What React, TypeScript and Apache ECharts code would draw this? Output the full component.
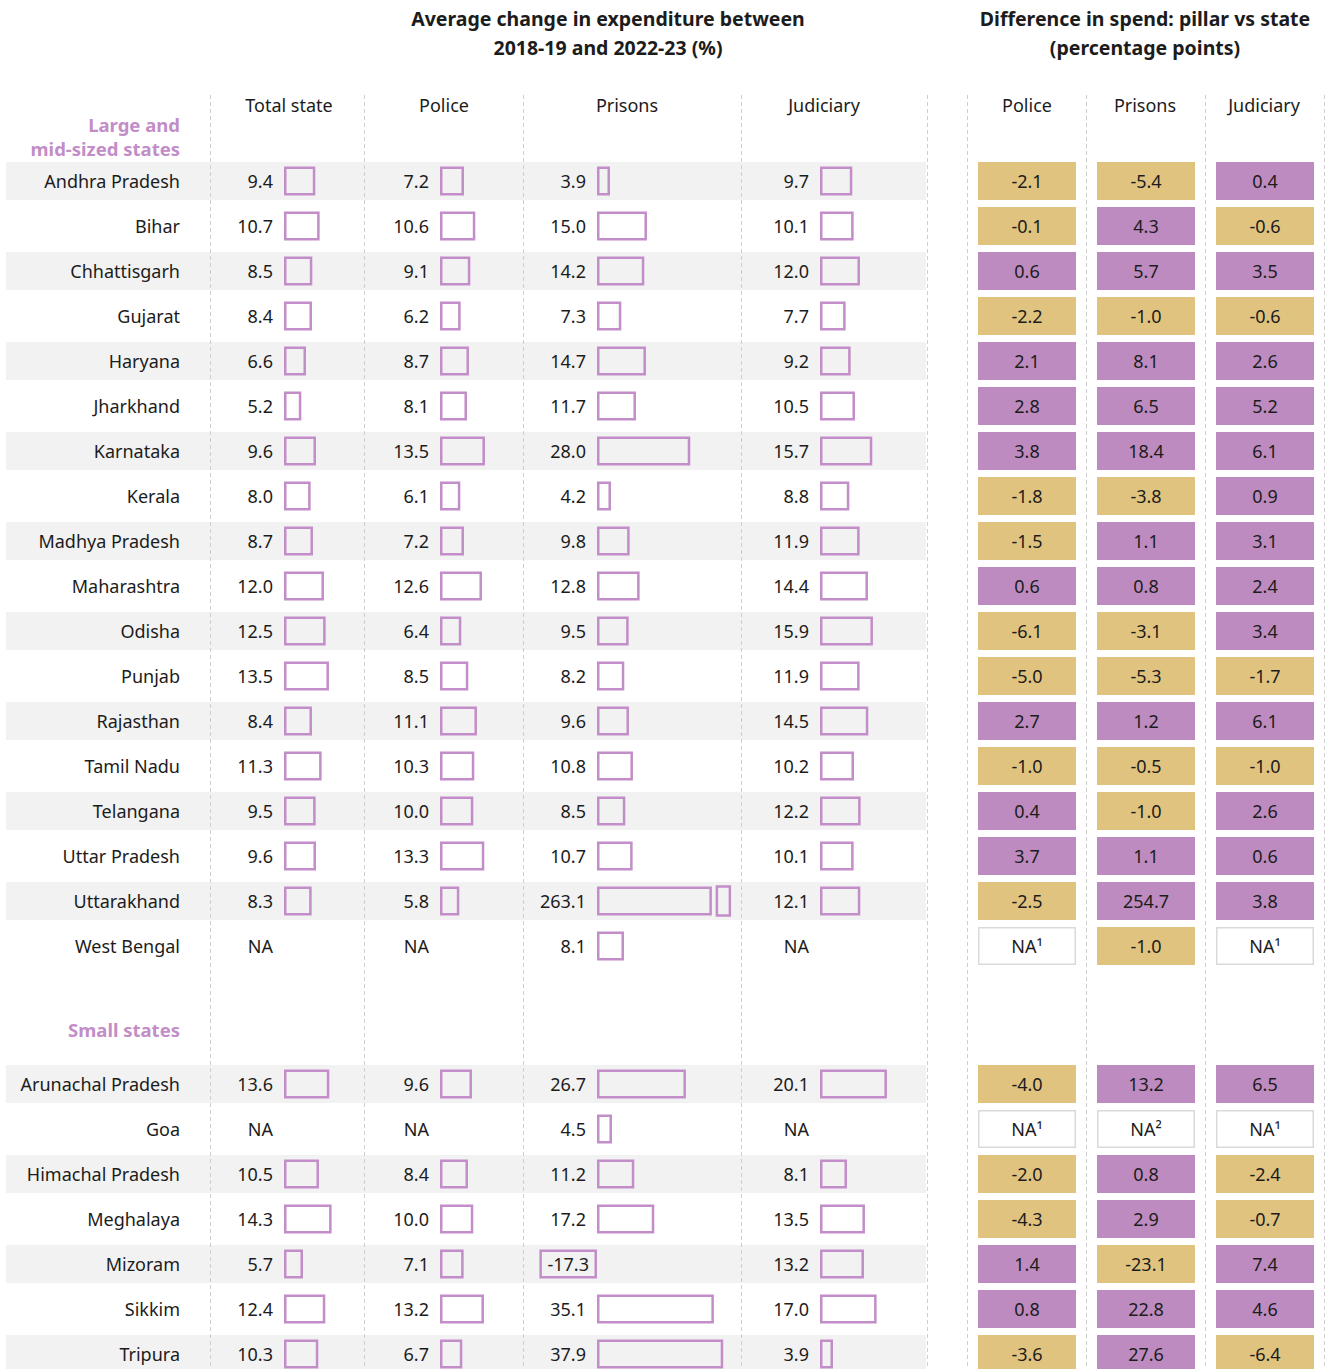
import React, { useEffect, useRef } from "react";
import * as echarts from "echarts";

// ---------- DATA ----------
const LARGE_STATES = [
  "Andhra Pradesh", "Bihar", "Chhattisgarh", "Gujarat", "Haryana", "Jharkhand",
  "Karnataka", "Kerala", "Madhya Pradesh", "Maharashtra", "Odisha", "Punjab",
  "Rajasthan", "Tamil Nadu", "Telangana", "Uttar Pradesh", "Uttarakhand", "West Bengal",
];
const SMALL_STATES = ["Arunachal Pradesh", "Goa", "Himachal Pradesh", "Meghalaya", "Mizoram", "Sikkim", "Tripura"];

type V = number | string;

// values: 18 large states, then 7 small states
const TOTAL_STATE: V[] = [9.4, 10.7, 8.5, 8.4, 6.6, 5.2, 9.6, 8.0, 8.7, 12.0, 12.5, 13.5, 8.4, 11.3, 9.5, 9.6, 8.3, "NA",
  13.6, "NA", 10.5, 14.3, 5.7, 12.4, 10.3];
const POLICE: V[] = [7.2, 10.6, 9.1, 6.2, 8.7, 8.1, 13.5, 6.1, 7.2, 12.6, 6.4, 8.5, 11.1, 10.3, 10.0, 13.3, 5.8, "NA",
  9.6, "NA", 8.4, 10.0, 7.1, 13.2, 6.7];
const PRISONS: V[] = [3.9, 15.0, 14.2, 7.3, 14.7, 11.7, 28.0, 4.2, 9.8, 12.8, 9.5, 8.2, 9.6, 10.8, 8.5, 10.7, 263.1, 8.1,
  26.7, 4.5, 11.2, 17.2, -17.3, 35.1, 37.9];
const JUDICIARY: V[] = [9.7, 10.1, 12.0, 7.7, 9.2, 10.5, 15.7, 8.8, 11.9, 14.4, 15.9, 11.9, 14.5, 10.2, 12.2, 10.1, 12.1, "NA",
  20.1, "NA", 8.1, 13.5, 13.2, 17.0, 3.9];

const DIFF_POLICE: V[] = [-2.1, -0.1, 0.6, -2.2, 2.1, 2.8, 3.8, -1.8, -1.5, 0.6, -6.1, -5.0, 2.7, -1.0, 0.4, 3.7, -2.5, "NA¹",
  -4.0, "NA¹", -2.0, -4.3, 1.4, 0.8, -3.6];
const DIFF_PRISONS: V[] = [-5.4, 4.3, 5.7, -1.0, 8.1, 6.5, 18.4, -3.8, 1.1, 0.8, -3.1, -5.3, 1.2, -0.5, -1.0, 1.1, 254.7, -1.0,
  13.2, "NA²", 0.8, 2.9, -23.1, 22.8, 27.6];
const DIFF_JUDICIARY: V[] = [0.4, -0.6, 3.5, -0.6, 2.6, 5.2, 6.1, 0.9, 3.1, 2.4, 3.4, -1.7, 6.1, -1.0, 2.6, 0.6, 3.8, "NA¹",
  6.5, "NA¹", -2.4, -0.7, 7.4, 4.6, -6.4];

const LEFT_HEADERS = ["Total state", "Police", "Prisons", "Judiciary"];
const RIGHT_HEADERS = ["Police", "Prisons", "Judiciary"];
const GROUP_LABELS = [["Large and", "mid-sized states"], ["Small states"]];

// ---------- STYLE / LAYOUT ----------
const FONT = "'Noto Sans', 'DejaVu Sans', sans-serif";
const TEXT = "#1c1c1c";
const LILAC = "#c28dc8";
const PURPLE = "#bd8bbf";
const GOLD = "#e0c37f";
const STRIPE = "#f2f2f2";
const FS = 18;
const K = 3.33; // px per percent
const ROW_H = 45;
const PRISON_MAX = 40; // prisons axis maximum
const PRISON_CAP = 34.5; // drawn length of bars beyond the axis (axis break)
const BREAK_FROM = 36.0;
const BREAK_TO = 39.9;
const CANVAS_H = 1385;

const GROUPS = [
  { names: LARGE_STATES, offset: 0, top: 158.5 },
  { names: SMALL_STATES, offset: LARGE_STATES.length, top: 1061.5 },
];

export default function App() {
  const ref = useRef<HTMLDivElement>(null);

  useEffect(() => {
    document.body.style.margin = "0";
    document.body.style.overflow = "hidden";
    const chart = echarts.init(ref.current!, undefined, { renderer: "svg" });

    const grids: any[] = [];
    const xAxes: any[] = [];
    const yAxes: any[] = [];
    const series: any[] = [];

    const addGrid = (g: any, left: number, min: number, max: number, showNames = false, width?: number) => {
      const idx = grids.length;
      grids.push({ left, width: width ?? (max - min) * K, top: g.top, height: g.names.length * ROW_H });
      xAxes.push({ gridIndex: idx, type: "value", min, max, show: false });
      yAxes.push({
        gridIndex: idx, type: "category", data: g.names, inverse: true,
        show: showNames,
        axisLine: { show: false }, axisTick: { show: false }, splitLine: { show: false },
        axisLabel: { show: showNames, margin: 104, fontFamily: FONT, fontSize: FS, color: TEXT },
      });
      return idx;
    };

    const barSeries = (vals: V[], gi: number, withBreak = false) => ({
      type: "bar", xAxisIndex: gi, yAxisIndex: gi, barWidth: 29, z: 3,
      itemStyle: { color: "transparent", borderColor: LILAC, borderWidth: 2.5 },
      label: { show: true, position: "left", distance: 11, fontFamily: FONT, fontSize: FS, color: TEXT },
      data: vals.map((v) => {
        if (typeof v === "string")
          return { value: 0, itemStyle: { borderWidth: 0 }, label: { formatter: v } };
        const shown = withBreak && v > PRISON_MAX ? PRISON_CAP : v;
        return {
          value: shown,
          label: { formatter: v.toFixed(1), position: v < 0 ? "inside" : "left" },
        };
      }),
    });

    const cellSeries = (vals: V[], gi: number) => ({
      type: "bar", xAxisIndex: gi, yAxisIndex: gi, barWidth: 38, z: 3,
      label: { show: true, position: "inside", fontFamily: FONT, fontSize: FS, color: TEXT },
      data: vals.map((v) => {
        if (typeof v === "string")
          return {
            value: 1,
            itemStyle: { color: "#ffffff", borderColor: "#dadada", borderWidth: 1.5 },
            label: { formatter: v },
          };
        return {
          value: 1,
          itemStyle: { color: v < 0 ? GOLD : PURPLE },
          label: { formatter: v.toFixed(1) },
        };
      }),
    });

    GROUPS.forEach((g) => {
      const sl = (arr: V[]) => arr.slice(g.offset, g.offset + g.names.length);

      // stripes
      const gs = addGrid(g, 6, 0, 1, false, 920);
      series.push({
        type: "bar", xAxisIndex: gs, yAxisIndex: gs, barWidth: 38, z: 0, silent: true,
        data: g.names.map((_, i) => (i % 2 === 0 ? 1 : "-")),
        itemStyle: { color: STRIPE },
      });

      const g1 = addGrid(g, 284, 0, 22, true);
      series.push(barSeries(sl(TOTAL_STATE), g1));
      const g2 = addGrid(g, 440, 0, 22);
      series.push(barSeries(sl(POLICE), g2));
      const g3 = addGrid(g, 597 - 20 * K, -20, PRISON_MAX);
      const pv = sl(PRISONS);
      series.push(barSeries(pv, g3, true));
      series.push({
        type: "custom", xAxisIndex: g3, yAxisIndex: g3, z: 3,
        data: pv.map((v, i) => [typeof v === "number" && v > PRISON_MAX ? 1 : 0, i]).filter((d) => d[0] === 1),
        encode: { x: 0, y: 1 },
        renderItem: (_p: any, api: any) => {
          const row = api.value(1);
          const a = api.coord([BREAK_FROM, row]);
          const b = api.coord([BREAK_TO, row]);
          return {
            type: "rect",
            shape: { x: a[0], y: a[1] - 14.5, width: b[0] - a[0], height: 29 },
            style: { fill: "none", stroke: LILAC, lineWidth: 2.5 },
          };
        },
      });
      const g4 = addGrid(g, 820, 0, 22);
      series.push(barSeries(sl(JUDICIARY), g4));

      const c1 = addGrid(g, 978, 0, 1, false, 98);
      series.push(cellSeries(sl(DIFF_POLICE), c1));
      const c2 = addGrid(g, 1097, 0, 1, false, 98);
      series.push(cellSeries(sl(DIFF_PRISONS), c2));
      const c3 = addGrid(g, 1216, 0, 1, false, 98);
      series.push(cellSeries(sl(DIFF_JUDICIARY), c3));
    });

    const sepX = [210, 364, 523, 741, 927, 967, 1086, 1205, 1324];
    const graphic: any[] = sepX.map((x) => ({
      type: "line", z: 10, silent: true,
      shape: { x1: x + 0.5, y1: 95, x2: x + 0.5, y2: CANVAS_H },
      style: { stroke: "#cfcfcf", lineWidth: 1, lineDash: [4, 3] },
    }));
    const txt = (text: string, x: number, y: number, opts: any = {}) => ({
      type: "text", x, y, z: 10, silent: true,
      style: {
        text, fontFamily: FONT, fontSize: FS, fill: TEXT,
        textAlign: "center", textVerticalAlign: "middle", ...opts,
      },
    });
    const hd = { fontSize: 19.5, fontWeight: "bold" };
    graphic.push(txt("Average change in expenditure between", 608, 18, hd));
    graphic.push(txt("2018-19 and 2022-23 (%)", 608, 47, hd));
    graphic.push(txt("Difference in spend: pillar vs state", 1145, 18, hd));
    graphic.push(txt("(percentage points)", 1145, 47, hd));
    const leftHX = [289, 444, 627, 824];
    LEFT_HEADERS.forEach((h, i) => graphic.push(txt(h, leftHX[i], 105)));
    const rightHX = [1027, 1145, 1264];
    RIGHT_HEADERS.forEach((h, i) => graphic.push(txt(h, rightHX[i], 105)));
    const grp = { fill: LILAC, fontWeight: "bold", textAlign: "right", fontSize: 18.5 };
    graphic.push(txt(GROUP_LABELS[0][0], 180, 124, grp));
    graphic.push(txt(GROUP_LABELS[0][1], 180, 148, grp));
    graphic.push(txt(GROUP_LABELS[1][0], 180, 1029, grp));

    chart.setOption({
      animation: false,
      backgroundColor: "#ffffff",
      grid: grids,
      xAxis: xAxes,
      yAxis: yAxes,
      series,
      graphic,
    });
    return () => chart.dispose();
  }, []);

  return <div ref={ref} style={{ width: 1328, height: CANVAS_H }} />;
}
